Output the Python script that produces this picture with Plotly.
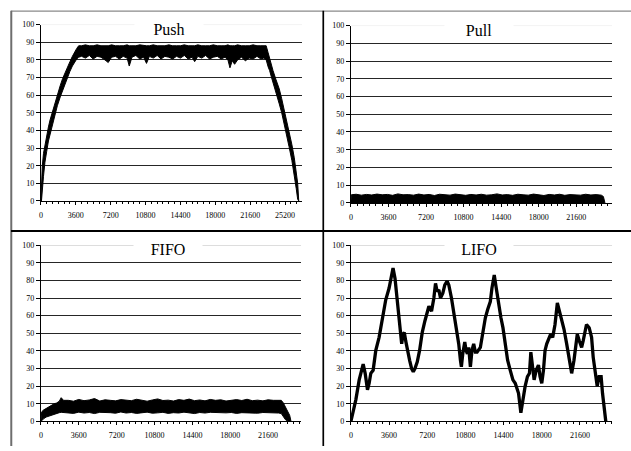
import plotly.graph_objects as go

# ---------------- data ----------------
panel_titles = ["Push", "Pull", "FIFO", "LIFO"]
x_ticks_push = [0, 3600, 7200, 10800, 14400, 18000, 21600, 25200]
x_ticks_other = [0, 3600, 7200, 10800, 14400, 18000, 21600]
y_ticks = [0, 10, 20, 30, 40, 50, 60, 70, 80, 90, 100]

# Push: band envelope (upper / lower edge of the dense trace)
push_x = [0, 60, 150, 270, 420, 600, 780, 950, 1200, 1450, 1700, 2000, 2250, 2500, 2750, 3000, 3250, 3500, 3700, 3900,
          4200, 4600, 5000, 5400, 5800, 6200, 6600, 6950, 7300, 7700,
          8100, 8500, 8900, 9120, 9400, 9800, 10200, 10600, 10900, 11200,
          11600, 12000, 12400, 12800, 13200, 13600, 14000, 14400, 14800, 15200,
          15600, 15870, 16200, 16600, 17000, 17400, 17800, 18200, 18600, 19000,
          19300, 19510, 19750, 19990, 20300, 20700, 21100, 21500, 21900, 22300,
          22700, 23000,
          23250, 23450, 23600, 23800, 23950, 24250, 24600, 24850, 25100, 25350, 25600, 25900, 26150, 26350, 26500, 26610]
push_hi = [0, 12, 20, 27, 32, 37, 42, 46, 51, 56, 60.5, 65.5, 69.5, 73, 76, 79, 82, 85, 86.5, 88,
           88, 88.5, 88, 88, 88.5, 88, 88, 88, 88.5, 88,
           88, 88, 88.5, 88, 88, 88, 88.5, 88, 88, 88,
           88.5, 88, 88, 88, 88.5, 88, 88, 88, 88.5, 88,
           88, 88, 88.5, 88, 88, 88, 88.5, 88, 88, 88,
           88.5, 88, 88, 88, 88.5, 88, 88, 88, 88.5, 88,
           88, 88,
           88, 84, 80.5, 77, 74, 69, 63.5, 58, 52, 46, 39.5, 32, 24.5, 17, 10, 0]
push_lo = [0, 0, 5, 14, 22, 28, 34, 38, 44, 49, 54, 59, 63, 67, 70, 73.5, 76.5, 79, 80.5, 81.5,
           82.0, 81.0, 82.5, 80.5, 82.0, 81.5, 80.0, 78.5, 81.5, 82.0,
           80.5, 82.0, 81.0, 76.5, 81.5, 82.5, 80.5, 81.5, 78.0, 82.0,
           81.0, 82.5, 80.5, 82.0, 81.5, 80.5, 82.0, 81.0, 82.5, 80.5,
           81.5, 79.0, 82.0, 81.0, 82.5, 80.5, 81.5, 82.0, 80.5, 81.5,
           80.0, 75.5, 79.5, 77.5, 80.0, 81.5, 79.5, 81.0, 80.5, 82.0,
           80.5, 81.0,
           80, 76, 74, 70, 67, 61, 55, 50, 44, 38, 31, 23, 15, 7, 1, 0]

# Pull: band from 0 up to the upper edge
pull_x = [0, 40, 500, 1000, 1500, 2000, 2500, 3000, 3500, 4000, 4500, 5000, 5500, 6000, 6500, 7000, 7500, 8000,
          8500, 9000, 9500, 10000, 10500, 11000, 11500, 12000, 12500, 13000, 13500, 14000, 14500, 15000, 15500,
          16000, 16500, 17000, 17500, 18000, 18500, 19000, 19500, 20000, 20500, 21000, 21500, 22000, 22500,
          23000, 23500, 24000, 24200, 24350]
pull_hi = [0, 4.6, 4.9, 4.4, 4.8, 4.5, 5.0, 4.6, 4.8, 4.3, 5.1, 4.6, 4.7, 4.4, 5.0, 4.5, 4.8, 4.2,
           4.9, 4.6, 4.4, 5.0, 4.7, 4.3, 4.8, 4.5, 4.9, 4.4, 4.6, 5.1, 4.5, 4.7, 4.3,
           4.9, 4.6, 4.4, 5.0, 4.6, 4.2, 4.8, 4.5, 4.9, 4.3, 4.7, 4.6, 4.4, 4.9,
           4.5, 4.7, 4.4, 3.6, 0]

# FIFO: band envelope
fifo_x = [0, 80, 250, 500, 750, 1000, 1250, 1500, 1750, 1930, 2150,
          2600, 3100, 3600, 4100, 4600, 5100, 5600, 6100, 6600, 7100,
          7600, 8100, 8600, 9100, 9600, 10100, 10600, 11100, 11600, 12100,
          12600, 13100, 13600, 14100, 14600, 15100, 15600, 16100, 16600, 17100,
          17600, 18100, 18600, 19100, 19600, 20100, 20600, 21100, 21600, 22100,
          22600,
          22850, 23050, 23250, 23450, 23650, 23780]
fifo_hi = [0, 5.5, 6.5, 7.5, 8.5, 9.5, 10, 10.5, 11.5, 13.5, 12,
           12.0, 11.5, 12.5, 11.8, 12.2, 13.0, 11.6, 12.3, 12.0, 11.7,
           12.4, 12.0, 11.8, 12.6, 12.0, 11.5, 12.2, 12.8, 11.9, 12.1,
           11.6, 12.4, 12.0, 12.7, 11.8, 12.2, 11.7, 12.5, 12.0, 12.3,
           11.6, 12.0, 12.4, 11.9, 12.6, 11.8, 12.1, 11.7, 12.3, 12.0,
           11.8,
           12, 10.5, 8, 6, 3.5, 0]
fifo_lo = [0, 0.5, 1.5, 2.5, 3, 3.5, 4, 4.5, 5, 5.2, 5,
           5.0, 4.6, 5.3, 4.8, 5.1, 4.5, 5.2, 4.9, 5.0, 4.7,
           5.4, 4.8, 5.1, 4.6, 5.0, 5.3, 4.7, 4.9, 5.2, 4.6,
           5.0, 4.8, 5.3, 4.9, 4.5, 5.1, 4.8, 5.2, 4.7, 5.0,
           4.9, 5.1, 4.6, 5.0, 5.2, 4.8, 4.7, 5.1, 4.9, 5.0,
           4.8,
           4.5, 2.5, 1, 0.3, 0, 0]

# LIFO: single thick line
lifo_x = [0, 470, 783, 1033, 1158, 1346, 1565, 1722, 1878, 2097,
          2348, 2660, 2974, 3287, 3600, 3850, 3975, 4163, 4382, 4601,
          4789, 4914, 5040, 5165, 5321, 5540, 5728, 5884, 6041, 6260,
          6479, 6730, 6980, 7199, 7356, 7606, 7825, 7981, 8138, 8295,
          8451, 8670, 8858, 9077, 9234, 9484, 9703, 9922, 10170, 10330,
          10420, 10550, 10740, 10860, 10990, 11110, 11270, 11420, 11580, 11740,
          11900, 12210, 12460, 12680, 12900, 13150, 13300, 13520, 13710, 13930,
          14150, 14340, 14560, 14780, 15030, 15280, 15500, 15650, 15810, 16030,
          16220, 16430, 16650, 16840, 16970, 17150, 17280, 17470, 17690, 17840,
          18000, 18160, 18310, 18470, 18720, 18840, 19030, 19250, 19470, 19660,
          19880, 20100, 20350, 20600, 20820, 21040, 21220, 21350, 21540, 21760,
          21910, 22070, 22220, 22470, 22700, 22850, 23100, 23230, 23410, 23600,
          23730, 23850, 23980, 24040]
lifo_y = [0, 12.4, 23.6, 31, 32.5, 27.3, 18, 21.7, 27.3, 29,
          40.3, 47.7, 58.8, 69, 75.5, 83, 87, 81, 68, 57,
          44, 49.5, 50.5, 45.8, 42, 34.7, 30, 28.2, 30, 33.8,
          40.3, 50.5, 57, 61.6, 65.3, 62.5, 70, 78.3, 73.7, 74.6,
          70, 72.7, 77.4, 79.6, 77.4, 70, 62.5, 53.2, 44, 34.7,
          31, 38.4, 45, 40.3, 38.4, 42, 31, 40.3, 44, 39.3,
          39.3, 42, 51.4, 58.8, 63.5, 68, 75.5, 83, 75.5, 66.2,
          58.8, 53.2, 44, 34.7, 29, 23.6, 21.7, 18, 16, 5,
          12.4, 19.9, 25.4, 27.3, 39.3, 29, 23.6, 29, 32, 25.4,
          21.7, 29, 40.3, 44, 47.7, 49.5, 47.7, 55, 67.2, 62.5,
          57, 52.3, 44, 34.7, 27.3, 34.7, 42, 49.5, 45.8, 42,
          45.8, 51.4, 55, 53.2, 47.7, 36.5, 23.6, 20, 25.4, 25.4,
          16, 8.7, 2.2, 0]

x_ranges = [[0, 26950], [0, 25030], [0, 24730], [0, 24630]]

# ---------------- layout geometry (pixels) ----------------
W, H = 631, 451
FONT = "Liberation Serif"
# plot areas: (left, right, top, bottom) in pixels
areas = [(39, 301, 21, 201), (350, 612, 22, 203), (39, 300, 246, 426), (350, 612, 246, 426)]


def px_dom_x(a, b):
    return [a / W, b / W]


def px_dom_y(top, bottom):
    return [1 - bottom / H, 1 - top / H]


def band(xs, hi, lo):
    # closed outline: along the upper edge, back along the lower edge
    return list(xs) + list(xs)[::-1], list(hi) + list(lo)[::-1]


fig = go.Figure()
BLACK = "#000000"

bx, by = band(push_x, push_hi, push_lo)
fig.add_trace(go.Scatter(x=bx, y=by, mode="lines", line=dict(color=BLACK, width=1),
                         fill="toself", fillcolor=BLACK, xaxis="x", yaxis="y", showlegend=False))
fig.add_trace(go.Scatter(x=pull_x, y=pull_hi, mode="lines", line=dict(color=BLACK, width=1),
                         fill="tozeroy", fillcolor=BLACK, xaxis="x2", yaxis="y2", showlegend=False))
bx, by = band(fifo_x, fifo_hi, fifo_lo)
fig.add_trace(go.Scatter(x=bx, y=by, mode="lines", line=dict(color=BLACK, width=1),
                         fill="toself", fillcolor=BLACK, xaxis="x3", yaxis="y3", showlegend=False))
fig.add_trace(go.Scatter(x=lifo_x, y=lifo_y, mode="lines", line=dict(color=BLACK, width=3.3),
                         xaxis="x4", yaxis="y4", showlegend=False))

tickfont = dict(family=FONT, size=8, color=BLACK)
layout = dict(width=W, height=H, margin=dict(l=0, r=0, t=0, b=0),
              paper_bgcolor="white", plot_bgcolor="white", showlegend=False)

shapes = []
annotations = []
for i, (l, r, t, b) in enumerate(areas):
    sfx = "" if i == 0 else str(i + 1)
    xt = x_ticks_push if i == 0 else x_ticks_other
    layout["xaxis" + sfx] = dict(
        domain=px_dom_x(l, r), range=x_ranges[i], anchor="y" + sfx,
        tickmode="array", tickvals=xt, ticktext=[str(v) for v in xt],
        ticks="outside", ticklen=3, tickcolor=BLACK, tickwidth=1,
        minor=dict(dtick=600, tick0=0, ticks="outside", ticklen=2, tickcolor=BLACK, tickwidth=1),
        showline=True, linecolor=BLACK, linewidth=1, showgrid=False, zeroline=False,
        tickfont=tickfont, ticklabelstandoff=3, fixedrange=True)
    layout["yaxis" + sfx] = dict(
        domain=px_dom_y(t, b), range=[0, 100], anchor="x" + sfx,
        tickmode="array", tickvals=y_ticks, ticktext=[str(v) for v in y_ticks],
        ticks="outside", ticklen=4, tickcolor=BLACK, tickwidth=1,
        showline=True, linecolor=BLACK, linewidth=1,
        showgrid=True, gridcolor="#262626", gridwidth=1, zeroline=False,
        tickfont=tickfont, fixedrange=True)
    xr = "x" + sfx + " domain"
    yr = "y" + sfx
    top_col = "#e8e8e8" if i < 2 else "#c4c4c4"
    shapes.append(dict(type="line", xref=xr, yref=yr, x0=0, x1=1, y0=100, y1=100,
                       line=dict(color="white", width=2), layer="above"))
    shapes.append(dict(type="line", xref=xr, yref=yr, x0=0.002, x1=1, y0=100, y1=100,
                       line=dict(color=top_col, width=1), layer="above"))
    annotations.append(dict(text=panel_titles[i], xref=xr, yref="y" + sfx + " domain",
                            x=0.49, y=1, xanchor="center", yanchor="top", yshift=7,
                            showarrow=False, bgcolor="white", borderpad=2, width=64,
                            font=dict(family=FONT, size=16, color=BLACK)))


def hline(y, x0, x1, color, width):
    return dict(type="line", xref="paper", yref="paper", x0=x0 / W, x1=x1 / W,
                y0=1 - y / H, y1=1 - y / H, line=dict(color=color, width=width), layer="above")


def vline(x, y0, y1, color, width):
    return dict(type="line", xref="paper", yref="paper", x0=x / W, x1=x / W,
                y0=1 - y0 / H, y1=1 - y1 / H, line=dict(color=color, width=width), layer="above")


shapes.append(hline(7.3, 9, W, "#8a8a8a", 1.3))
shapes.append(vline(9.3, 7, H, "#6e6e6e", 2))
shapes.append(vline(322.3, 7, H, BLACK, 1.7))
shapes.append(hline(231.7, 9, W, BLACK, 2))

layout["shapes"] = shapes
layout["annotations"] = annotations
fig.update_layout(**layout)
fig.write_html("out.html", config={"displayModeBar": False},
               post_script="document.body.style.margin='0';document.body.style.overflow='hidden';")
